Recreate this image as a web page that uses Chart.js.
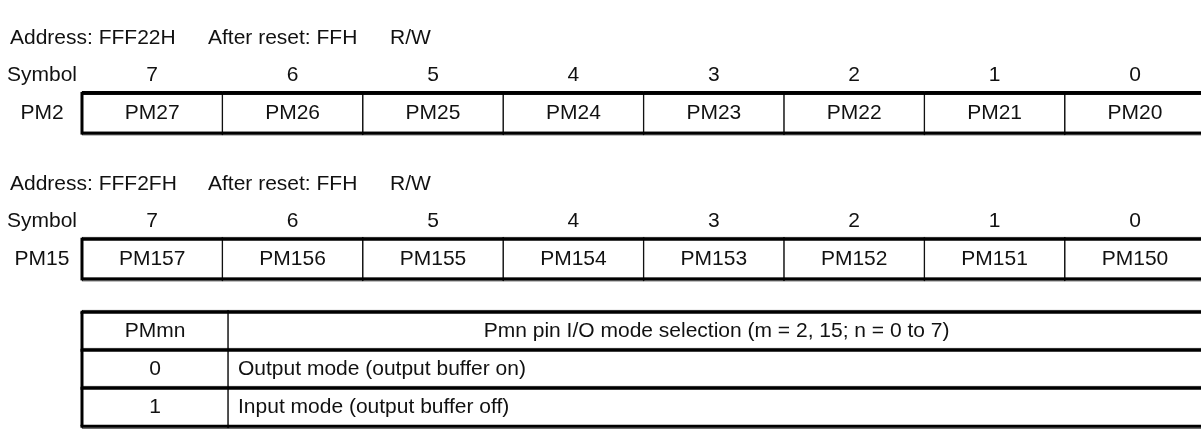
<!DOCTYPE html>
<html>
<head>
<meta charset="utf-8">
<script src="https://cdn.jsdelivr.net/npm/chart.js@4.4.1/dist/chart.umd.min.js"></script>
<style>
  html, body { margin: 0; padding: 0; background: #fff; }
  #wrap { width: 1201px; height: 447px; position: relative; }
</style>
</head>
<body>
<div id="wrap"><canvas id="regChart"></canvas></div>
<script>
// datos del diagrama
const bits = ['7', '6', '5', '4', '3', '2', '1', '0'];
const regNames = ['PM2', 'PM15'];
const regAddresses = ['FFF22H', 'FFF2FH'];
const resetValues = ['FFH', 'FFH'];
const accessModes = ['R/W', 'R/W'];
const pm2Fields = ['PM27', 'PM26', 'PM25', 'PM24', 'PM23', 'PM22', 'PM21', 'PM20'];
const pm15Fields = ['PM157', 'PM156', 'PM155', 'PM154', 'PM153', 'PM152', 'PM151', 'PM150'];
const tableHeader = ['PMmn', 'Pmn pin I/O mode selection (m = 2, 15; n = 0 to 7)'];
const tableValues = ['0', '1'];
const tableMeanings = ['Output mode (output buffer on)', 'Input mode (output buffer off)'];

// disposición (unidades: x = celdas de bit, y = pixeles de la figura)
const FONT = '21px "Liberation Sans", Arial, sans-serif';
const regTop = [79, 241];     // borde superior de cada registro
const regH = 44;
const addrY = [18, 180];
const symY = [59, 221];
const tableTop = 322;
const rowH = 42.3;
const colSplit = 1.04;        // division de columnas de la tabla
const nCells = bits.length;
const textShift = 0;

function regCells(fields, r) {
  return fields.map((f, i) => ({ x: [i, i + 1], y: regTop[r] + regH / 2 }));
}

const tableRows = [tableHeader[0]].concat(tableValues);
const tableCol1 = tableRows.map((t, i) => ({ x: [0, colSplit], y: tableTop + rowH * i + rowH / 2 }));
const tableCol2 = tableRows.map((t, i) => ({ x: [colSplit, nCells], y: tableTop + rowH * i + rowH / 2 }));

const cellStyle = {
  backgroundColor: '#ffffff',
  borderColor: '#000000',
  borderWidth: 1,
  borderSkipped: false,
  grouped: false
};

// dibuja textos y marcos gruesos
const diagramPlugin = {
  id: 'diagram',
  afterDatasetsDraw(chart) {
    const ctx = chart.ctx;
    const xs = chart.scales.x;
    const ys = chart.scales.y;
    ctx.save();
    ctx.font = FONT;
    ctx.fillStyle = '#111';
    ctx.textBaseline = 'middle';

    for (let r = 0; r < regNames.length; r++) {
      // encabezado
      ctx.textAlign = 'left';
      const ay = ys.getPixelForValue(addrY[r]);
      ctx.fillText('Address: ' + regAddresses[r], 10, ay);
      ctx.fillText('After reset: ' + resetValues[r], 208, ay);
      ctx.fillText(accessModes[r], 390, ay);

      // fila de simbolos
      ctx.textAlign = 'center';
      const sy = ys.getPixelForValue(symY[r]);
      ctx.fillText('Symbol', 42, sy);
      bits.forEach((b, i) => {
        ctx.fillText(b, xs.getPixelForValue(i + 0.5), sy);
      });

      // nombre del registro
      const meta = chart.getDatasetMeta(r);
      const c0 = meta.data[0].getCenterPoint();
      ctx.fillText(regNames[r], 42, c0.y + textShift);

      // textos de las celdas
      const fields = r === 0 ? pm2Fields : pm15Fields;
      meta.data.forEach((bar, i) => {
        const c = bar.getCenterPoint();
        ctx.fillText(fields[i], c.x, c.y + textShift);
      });

      // marco exterior
      ctx.lineWidth = 3;
      ctx.strokeStyle = '#000';
      const x0 = xs.getPixelForValue(0), x1 = xs.getPixelForValue(nCells);
      const y0 = ys.getPixelForValue(regTop[r]), y1 = ys.getPixelForValue(regTop[r] + regH);
      ctx.strokeRect(x0, y0, x1 - x0, y1 - y0);
    }

    // tabla
    const m1 = chart.getDatasetMeta(2);
    const m2 = chart.getDatasetMeta(3);
    m1.data.forEach((bar, i) => {
      const c = bar.getCenterPoint();
      ctx.textAlign = 'center';
      ctx.fillText(tableRows[i], c.x, c.y + textShift);
      if (i === 0) {
        const c2 = m2.data[i].getCenterPoint();
        ctx.fillText(tableHeader[1], c2.x, c2.y + textShift);
      } else {
        ctx.textAlign = 'left';
        ctx.fillText(tableMeanings[i - 1], xs.getPixelForValue(colSplit) + 10, c.y + textShift);
      }
    });

    ctx.lineWidth = 3;
    ctx.strokeStyle = '#000';
    const tx0 = xs.getPixelForValue(0), tx1 = xs.getPixelForValue(nCells);
    for (let i = 0; i <= tableRows.length; i++) {
      const y = Math.min(ys.getPixelForValue(tableTop + rowH * i), chart.height - 1.5);
      ctx.beginPath();
      ctx.moveTo(tx0 - 1.5, y);
      ctx.lineTo(tx1, y);
      ctx.stroke();
    }
    ctx.beginPath();
    ctx.moveTo(tx0, ys.getPixelForValue(tableTop));
    ctx.lineTo(tx0, ys.getPixelForValue(tableTop + rowH * tableRows.length));
    ctx.stroke();
    ctx.restore();
  }
};

const ctx = document.getElementById('regChart');
new Chart(ctx, {
  type: 'bar',
  data: {
    datasets: [
      Object.assign({ label: regNames[0], data: regCells(pm2Fields, 0), barThickness: regH }, cellStyle),
      Object.assign({ label: regNames[1], data: regCells(pm15Fields, 1), barThickness: regH }, cellStyle),
      Object.assign({ label: 'tabla1', data: tableCol1, barThickness: rowH }, cellStyle),
      Object.assign({ label: 'tabla2', data: tableCol2, barThickness: rowH }, cellStyle)
    ]
  },
  options: {
    indexAxis: 'y',
    responsive: true,
    maintainAspectRatio: false,
    animation: false,
    layout: { padding: 0 },
    plugins: {
      legend: { display: false },
      tooltip: { enabled: false },
      title: { display: false }
    },
    scales: {
      x: { type: 'linear', min: -0.584, max: 7.97, display: false },
      y: { type: 'linear', min: 0, max: 447, reverse: true, display: false }
    }
  },
  plugins: [diagramPlugin]
});
</script>
</body>
</html>
